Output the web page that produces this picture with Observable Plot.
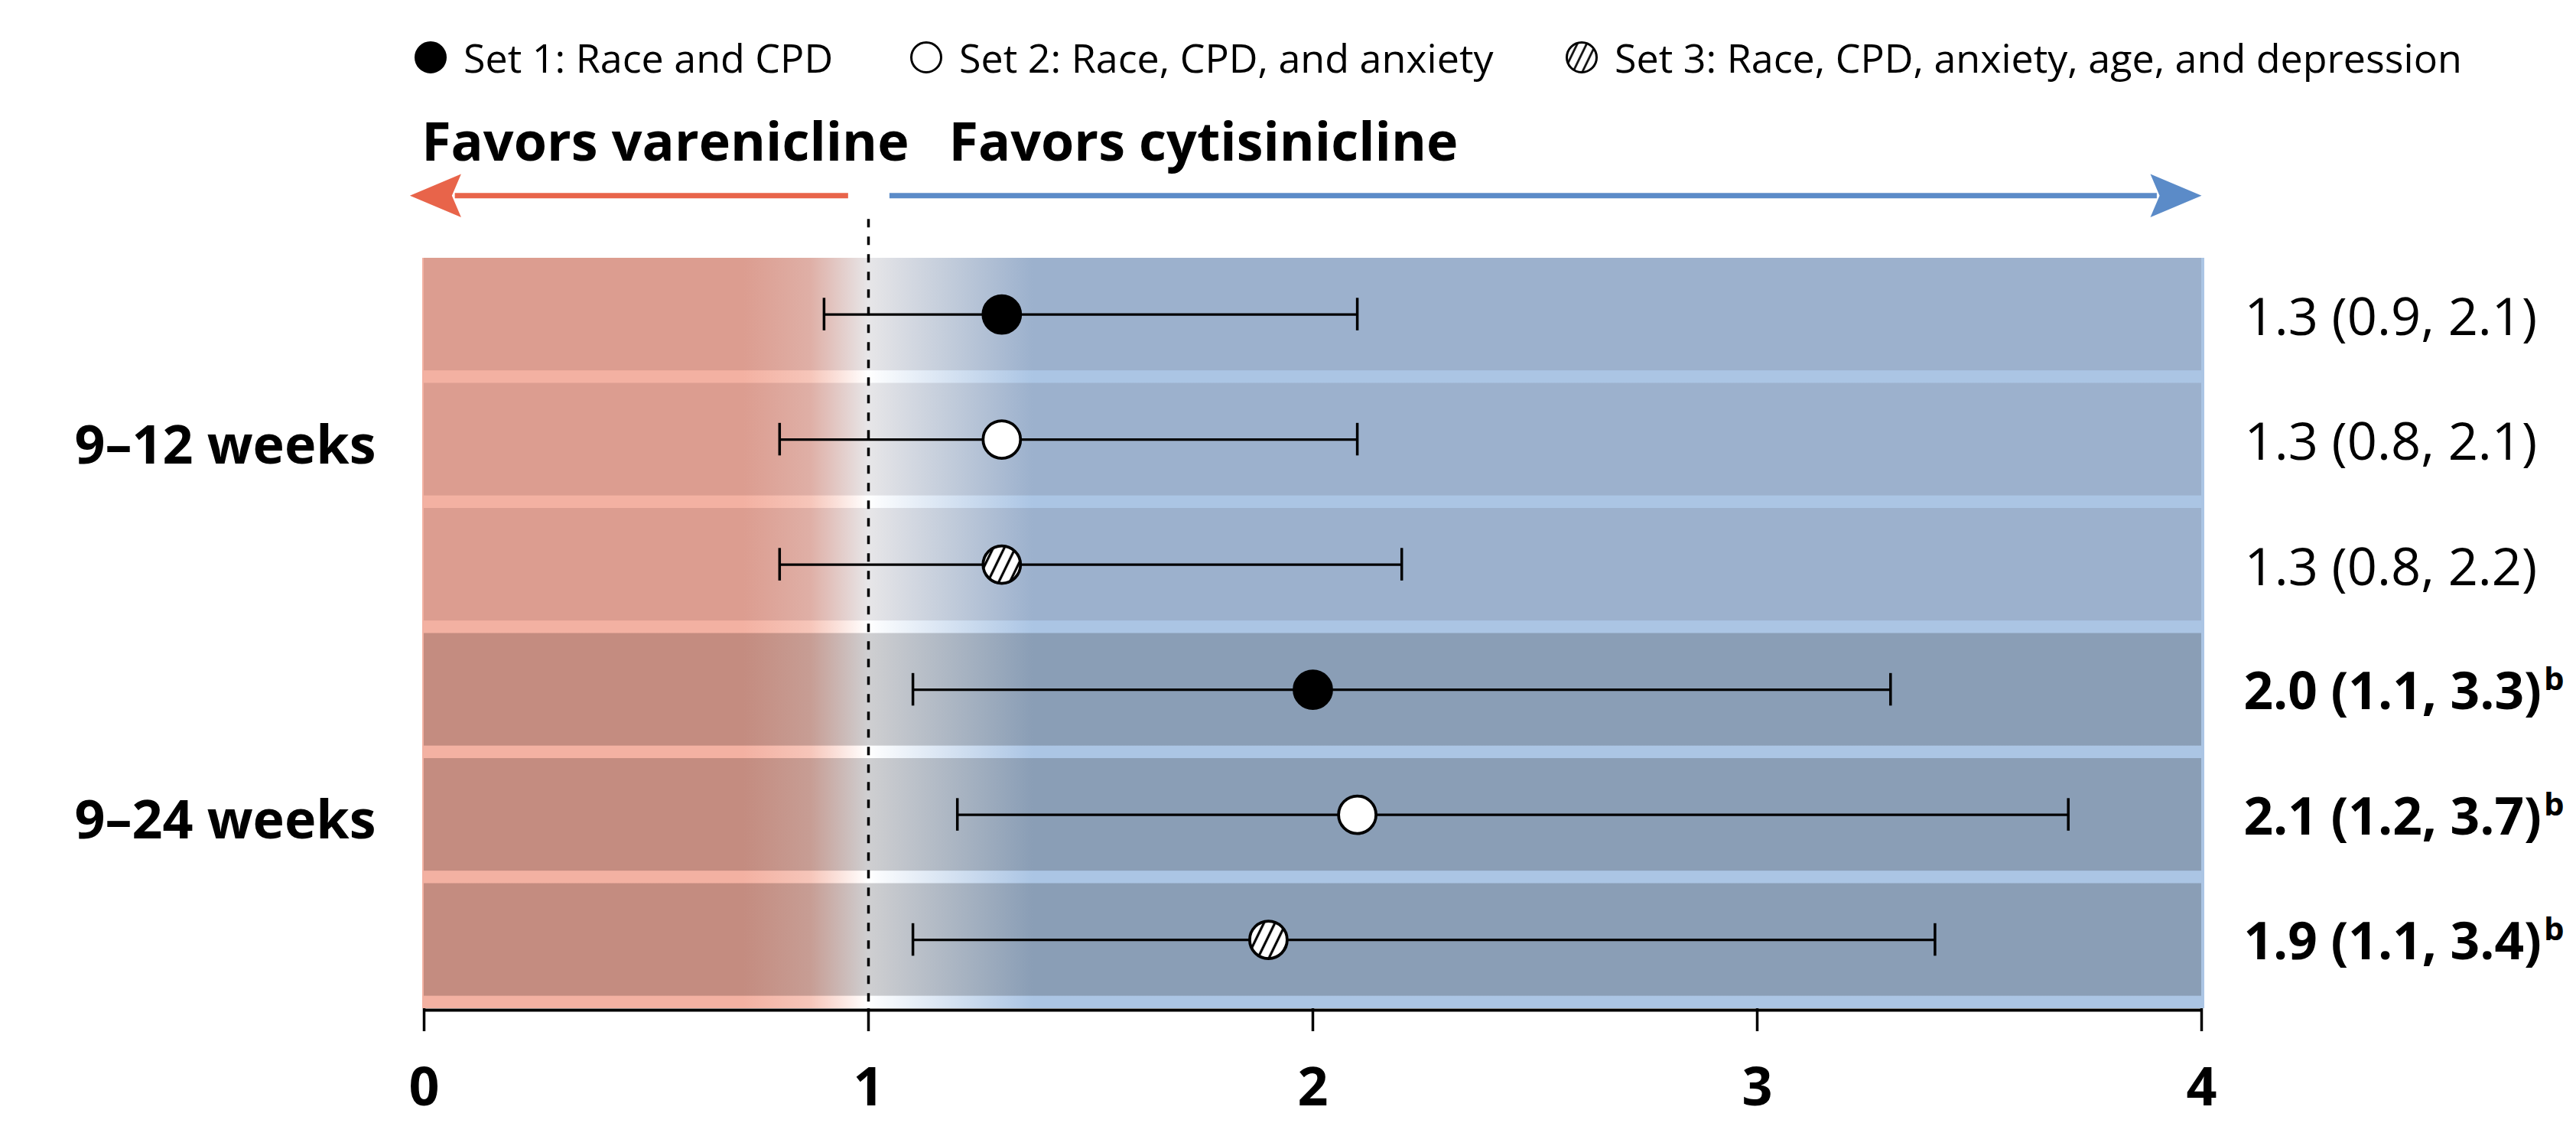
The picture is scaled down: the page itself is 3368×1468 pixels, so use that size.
<!DOCTYPE html>
<html>
<head>
<meta charset="utf-8">
<script src="https://cdn.jsdelivr.net/npm/d3@7"></script>
<script src="https://cdn.jsdelivr.net/npm/@observablehq/plot@0.6"></script>
<style>
html, body { margin: 0; padding: 0; background: #fff; }
#legend { position: relative; width: 3368px; height: 130px; font-family: "Open Sans", sans-serif; font-size: 52px; color: #000; }
.item { position: absolute; top: 49px; display: flex; align-items: center; white-space: nowrap; line-height: 1; }
.item svg { margin-right: 21px; flex: none; }
#chart svg { display: block; }
</style>
</head>
<body>
<div id="legend"></div>
<div id="chart"></div>
<script>
// ---- data ----
const periods = ["9–12 weeks", "9–24 weeks"];
const sets = ["Set 1: Race and CPD", "Set 2: Race, CPD, and anxiety", "Set 3: Race, CPD, anxiety, age, and depression"];
const rowPeriod = [0, 0, 0, 1, 1, 1];
const rowSet = [0, 1, 2, 0, 1, 2];
const estimate = [1.3, 1.3, 1.3, 2.0, 2.1, 1.9];
const lower = [0.9, 0.8, 0.8, 1.1, 1.2, 1.1];
const upper = [2.1, 2.1, 2.2, 3.3, 3.7, 3.4];
const significant = [false, false, false, true, true, true];
const footnote = "b";
const xTicks = [0, 1, 2, 3, 4];
const favorsLabels = ["Favors varenicline", "Favors cytisinicline"];

// ---- styles ----
const setFill = ["black", "white", "url(#hatch)"];
const legendFill = ["black", "white", "url(#hatchLegend)"];
const legendCx = [563, 1211, 2068];
const redArrow = "#E8644A", blueArrow = "#5B8BC8";
// gradient stop positions (in x units): solid red, 25% toward neutral, neutral, solid blue
const gradStopsX = [0.72, 0.87, 1.0, 1.37];
const palettes = {
  gradTop: ["#DC9D90", "#E7E6E8", "#9CB1CD"],
  gradBottom: ["#C48C80", "#CFCFD1", "#8A9EB6"],
  gradBand: ["#F3B1A2", "#FFFFFF", "#ABC5E4"]
};

const rows = estimate.map((e, i) => ({
  i, period: rowPeriod[i], set: rowSet[i], est: e, lo: lower[i], hi: upper[i], sig: significant[i],
  yc: i + 0.45,
  label: `${e.toFixed(1)} (${lower[i].toFixed(1)}, ${upper[i].toFixed(1)})`
}));
const groups = periods.map((p, k) => ({p, yc: k * 3 + 1.45}));

// ---- legend ----
const legend = d3.select("#legend");
sets.forEach((s, k) => {
  const item = legend.append("div").attr("class", "item").style("left", (legendCx[k] - 22) + "px");
  const sv = item.append("svg").attr("width", 44).attr("height", 44);
  if (k === 2) {
    const pat = sv.append("defs").append("pattern").attr("id", "hatchLegend")
      .attr("patternUnits", "userSpaceOnUse").attr("width", 11).attr("height", 11)
      .attr("patternTransform", "rotate(26)");
    pat.append("rect").attr("width", 11).attr("height", 11).attr("fill", "white");
    pat.append("line").attr("x1", 5.5).attr("x2", 5.5).attr("y1", -1).attr("y2", 12).attr("stroke", "black").attr("stroke-width", 2.6);
  }
  sv.append("circle").attr("cx", 22).attr("cy", 22).attr("r", 19.5).attr("fill", legendFill[k]).attr("stroke", "black").attr("stroke-width", 3);
  item.append("span").text(s);
});

// ---- arrowhead symbol (tip at origin, pointing right) ----
const arrowHead = {
  draw(ctx, size) {
    const s = Math.sqrt(size / Math.PI);
    ctx.moveTo(0, 0);
    ctx.lineTo(-2 * s, -0.84 * s);
    ctx.lineTo(-1.64 * s, 0);
    ctx.lineTo(-2 * s, 0.84 * s);
    ctx.closePath();
  }
};

const plot = Plot.plot({
  width: 3368,
  height: 1338,
  marginTop: 207,
  marginBottom: 150,
  marginLeft: 554,
  marginRight: 490,
  style: {fontFamily: "'Open Sans', sans-serif", background: "white", overflow: "visible", color: "black"},
  x: {domain: [0, 4], label: null},
  y: {domain: [0, 6], reverse: true, axis: null},
  marks: [
    // background band gradient (visible as light stripes between rows)
    Plot.rect([0], {x1: 0, x2: 4, y1: 0, y2: 6, fill: "url(#gradBand)", insetRight: -4, insetLeft: -2}),
    Plot.rect(rows.filter(d => d.period === 0), {x1: 0, x2: 4, y1: d => d.i, y2: d => d.i + 0.9, fill: "url(#gradTop)"}),
    Plot.rect(rows.filter(d => d.period === 1), {x1: 0, x2: 4, y1: d => d.i, y2: d => d.i + 0.9, fill: "url(#gradBottom)"}),
    // reference line at 1
    Plot.ruleX([1], {y1: -0.31, y2: 6, stroke: "black", strokeWidth: 3.5, strokeDasharray: "11,12"}),
    // axis line
    Plot.ruleY([6], {x1: 0, x2: 4, stroke: "black", strokeWidth: 4, dy: 2}),
    Plot.axisX({ticks: xTicks, tickSize: 30, tickPadding: 47, fontSize: 70, fontWeight: "bold", strokeWidth: 3.5, label: null, tickFormat: d => String(d)}),
    // confidence intervals
    Plot.ruleY(rows, {y: "yc", x1: "lo", x2: "hi", stroke: "black", strokeWidth: 3.2}),
    Plot.ruleX(rows, {x: "lo", y1: d => d.yc - 0.13, y2: d => d.yc + 0.13, stroke: "black", strokeWidth: 3.5}),
    Plot.ruleX(rows, {x: "hi", y1: d => d.yc - 0.13, y2: d => d.yc + 0.13, stroke: "black", strokeWidth: 3.5}),
    // point estimates
    ...[0, 1, 2].map(s => Plot.dot(rows.filter(d => d.set === s), {x: "est", y: "yc", r: 24.5, fill: setFill[s], stroke: "black", strokeWidth: 3.8})),
    // right-hand labels
    Plot.text(rows.filter(d => !d.sig), {x: 4, y: "yc", text: "label", textAnchor: "start", dx: 56, dy: 5, fontSize: 68.5}),
    Plot.text(rows.filter(d => d.sig), {x: 4, y: "yc", text: "label", textAnchor: "start", dx: 55, dy: 4, fontSize: 67.5, fontWeight: "bold"}),
    // group labels
    Plot.text(groups, {x: 0, y: "yc", text: "p", textAnchor: "end", dx: -63, dy: 9, fontSize: 70, fontWeight: "bold"}),
    // favors labels
    Plot.text([favorsLabels[0]], {x: 1, y: -0.78, text: d => d, textAnchor: "end", lineAnchor: "bottom", dx: 53, fontSize: 70, fontWeight: "bold"}),
    Plot.text([favorsLabels[1]], {x: 1, y: -0.78, text: d => d, textAnchor: "start", lineAnchor: "bottom", dx: 105, fontSize: 70, fontWeight: "bold"}),
    // arrows
    Plot.ruleY([-0.5], {x1: 0.955, x2: 0.07, stroke: redArrow, strokeWidth: 7}),
    Plot.ruleY([-0.5], {x1: 1.048, x2: 3.9, stroke: blueArrow, strokeWidth: 7}),
    Plot.dot([-0.5], {x: -0.032, y: d => d, symbol: arrowHead, r: 33.5, fill: redArrow, stroke: "none", rotate: 180}),
    Plot.dot([-0.5], {x: 4.0, y: d => d, symbol: arrowHead, r: 33.5, fill: blueArrow, stroke: "none"})
  ]
});

// ---- defs: gradients & hatch pattern ----
const svg = d3.select(plot);
const defs = svg.insert("defs", ":first-child");
const xDom = [0, 4];
Object.entries(palettes).forEach(([id, [red, mid, blue]]) => {
  const cols = [red, d3.interpolateRgb(red, mid)(0.25), mid, blue];
  const g = defs.append("linearGradient").attr("id", id).attr("x1", 0).attr("x2", 1).attr("y1", 0).attr("y2", 0);
  gradStopsX.forEach((v, k) => {
    g.append("stop").attr("offset", ((v - xDom[0]) / (xDom[1] - xDom[0]) * 100) + "%").attr("stop-color", cols[k]);
  });
});
const pat = defs.append("pattern").attr("id", "hatch").attr("patternUnits", "userSpaceOnUse")
  .attr("width", 13).attr("height", 13).attr("patternTransform", "rotate(26)");
pat.append("rect").attr("width", 13).attr("height", 13).attr("fill", "white");
pat.append("line").attr("x1", 6.5).attr("x2", 6.5).attr("y1", -1).attr("y2", 14).attr("stroke", "black").attr("stroke-width", 3.2);

// superscript footnote on significant results
const sigLabels = new Set(rows.filter(d => d.sig).map(d => d.label));
svg.selectAll("text").filter(function() { return sigLabels.has(this.textContent); })
  .append("tspan").attr("dx", 3).attr("dy", -25).attr("font-size", 42).text(footnote);

document.getElementById("chart").appendChild(plot);
</script>
</body>
</html>
